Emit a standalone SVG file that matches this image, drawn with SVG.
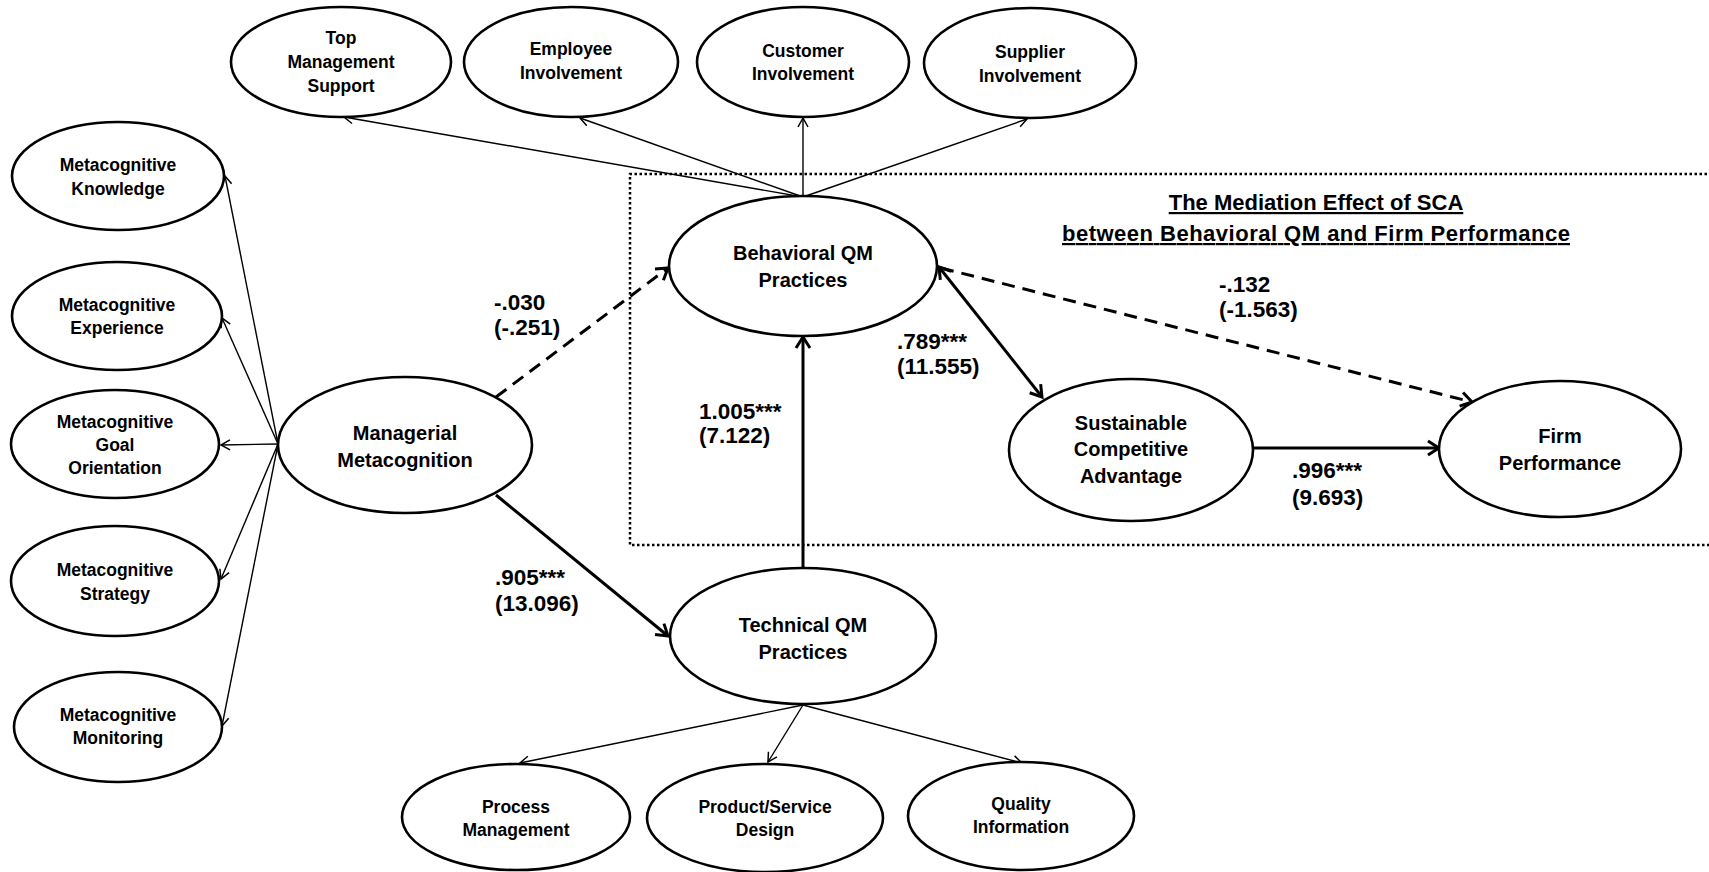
<svg xmlns="http://www.w3.org/2000/svg" width="1709" height="872" viewBox="0 0 1709 872">
  <style>
    .node ellipse { fill: #ffffff; stroke: #000000; stroke-width: 2.6; }
    .node text { font-family: "Liberation Sans", Arial, sans-serif; font-weight: bold; fill: #000000; text-anchor: middle; }
    .sm text { font-size: 17.5px; }
    .lg text { font-size: 20px; }
    .thin { stroke: #000000; stroke-width: 1.4; fill: none; marker-end: url(#arrowThin); }
    .thick { stroke: #000000; stroke-width: 3; fill: none; marker-end: url(#arrowThick); }
    .dash { stroke-dasharray: 13 8; }
    .lbl { font-family: "Liberation Sans", Arial, sans-serif; font-weight: bold; font-size: 22.5px; fill: #000000; }
    .title { font-family: "Liberation Sans", Arial, sans-serif; font-weight: bold; font-size: 22px; fill: #000000; text-anchor: middle; text-decoration: underline; }
    .box { fill: none; stroke: #000000; stroke-width: 2.5; stroke-dasharray: 2.5 2.5; }
  </style>
  <defs>
    <marker id="arrowThin" viewBox="-12 -8 14 16" markerWidth="14" markerHeight="16" refX="0" refY="0" orient="auto" markerUnits="userSpaceOnUse" overflow="visible">
      <path d="M-9,-5 L0,0 L-9,5" fill="none" stroke="#000000" stroke-width="1.5"/>
    </marker>
    <marker id="arrowThick" viewBox="-14 -9 16 18" markerWidth="16" markerHeight="18" refX="0" refY="0" orient="auto-start-reverse" markerUnits="userSpaceOnUse" overflow="visible">
      <path d="M-11,-7 L0,0 L-11,7" fill="none" stroke="#000000" stroke-width="3"/>
    </marker>
  </defs>
  <rect width="1709" height="872" fill="#ffffff"/>

  <!-- dotted frame around the mediation part -->
  <path class="box" d="M1712,174 H630 V545 H1712"/>

  <!-- connectors -->
  <g id="connectors">
    <!-- Behavioral QM indicators -->
    <line class="thin" x1="803" y1="197" x2="344" y2="117"/>
    <line class="thin" x1="803" y1="197" x2="580" y2="118"/>
    <line class="thin" x1="803" y1="197" x2="803" y2="118"/>
    <line class="thin" x1="803" y1="197" x2="1027" y2="119"/>
    <!-- Managerial Metacognition indicators -->
    <line class="thin" x1="278" y1="444" x2="225" y2="176"/>
    <line class="thin" x1="278" y1="444" x2="222" y2="318"/>
    <line class="thin" x1="278" y1="444" x2="221" y2="445"/>
    <line class="thin" x1="278" y1="444" x2="221" y2="579"/>
    <line class="thin" x1="278" y1="444" x2="222" y2="726"/>
    <!-- Technical QM indicators -->
    <line class="thin" x1="803" y1="705" x2="520" y2="763"/>
    <line class="thin" x1="803" y1="705" x2="768" y2="762"/>
    <line class="thin" x1="803" y1="705" x2="1022" y2="763"/>
    <!-- structural paths -->
    <line class="thick dash" x1="496" y1="397" x2="668" y2="268"/>
    <line class="thick" x1="496" y1="495" x2="668" y2="636"/>
    <line class="thick" x1="803" y1="568" x2="803" y2="337"/>
    <line class="thick" x1="1042" y1="397" x2="939" y2="267" marker-start="url(#arrowThick)"/>
    <line class="thick dash" x1="941" y1="268" x2="1472" y2="402"/>
    <line class="thick" x1="1253" y1="448" x2="1439" y2="448"/>
  </g>

  <!-- top indicators -->
  <g id="top-management-support" class="node sm">
    <ellipse cx="341" cy="62" rx="110" ry="55"/>
    <text x="341" y="44">Top</text>
    <text x="341" y="68">Management</text>
    <text x="341" y="92">Support</text>
  </g>
  <g id="employee-involvement" class="node sm">
    <ellipse cx="571" cy="62" rx="107" ry="55"/>
    <text x="571" y="55">Employee</text>
    <text x="571" y="79">Involvement</text>
  </g>
  <g id="customer-involvement" class="node sm">
    <ellipse cx="803" cy="62" rx="106" ry="55"/>
    <text x="803" y="57">Customer</text>
    <text x="803" y="80">Involvement</text>
  </g>
  <g id="supplier-involvement" class="node sm">
    <ellipse cx="1030" cy="63" rx="106" ry="55"/>
    <text x="1030" y="58">Supplier</text>
    <text x="1030" y="82">Involvement</text>
  </g>

  <!-- left indicators -->
  <g id="metacognitive-knowledge" class="node sm">
    <ellipse cx="118" cy="176" rx="106" ry="54"/>
    <text x="118" y="171">Metacognitive</text>
    <text x="118" y="195">Knowledge</text>
  </g>
  <g id="metacognitive-experience" class="node sm">
    <ellipse cx="117" cy="316" rx="105" ry="54"/>
    <text x="117" y="311">Metacognitive</text>
    <text x="117" y="334">Experience</text>
  </g>
  <g id="metacognitive-goal-orientation" class="node sm">
    <ellipse cx="115" cy="444" rx="104" ry="54"/>
    <text x="115" y="428">Metacognitive</text>
    <text x="115" y="451">Goal</text>
    <text x="115" y="474">Orientation</text>
  </g>
  <g id="metacognitive-strategy" class="node sm">
    <ellipse cx="115" cy="581" rx="104" ry="55"/>
    <text x="115" y="576">Metacognitive</text>
    <text x="115" y="600">Strategy</text>
  </g>
  <g id="metacognitive-monitoring" class="node sm">
    <ellipse cx="118" cy="727" rx="104" ry="55"/>
    <text x="118" y="721">Metacognitive</text>
    <text x="118" y="744">Monitoring</text>
  </g>

  <!-- constructs -->
  <g id="managerial-metacognition" class="node lg">
    <ellipse cx="405" cy="445" rx="127" ry="68"/>
    <text x="405" y="440">Managerial</text>
    <text x="405" y="467">Metacognition</text>
  </g>
  <g id="behavioral-qm" class="node lg">
    <ellipse cx="803" cy="266" rx="134" ry="70"/>
    <text x="803" y="260">Behavioral QM</text>
    <text x="803" y="287">Practices</text>
  </g>
  <g id="technical-qm" class="node lg">
    <ellipse cx="803" cy="636" rx="133" ry="68"/>
    <text x="803" y="632">Technical QM</text>
    <text x="803" y="659">Practices</text>
  </g>
  <g id="sca" class="node lg">
    <ellipse cx="1131" cy="450" rx="122" ry="71"/>
    <text x="1131" y="430">Sustainable</text>
    <text x="1131" y="456">Competitive</text>
    <text x="1131" y="483">Advantage</text>
  </g>
  <g id="firm-performance" class="node lg">
    <ellipse cx="1560" cy="449" rx="121" ry="68"/>
    <text x="1560" y="443">Firm</text>
    <text x="1560" y="470">Performance</text>
  </g>

  <!-- bottom indicators -->
  <g id="process-management" class="node sm">
    <ellipse cx="516" cy="817" rx="114" ry="53"/>
    <text x="516" y="813">Process</text>
    <text x="516" y="836">Management</text>
  </g>
  <g id="product-service-design" class="node sm">
    <ellipse cx="765" cy="818" rx="118" ry="54"/>
    <text x="765" y="813">Product/Service</text>
    <text x="765" y="836">Design</text>
  </g>
  <g id="quality-information" class="node sm">
    <ellipse cx="1021" cy="816" rx="113" ry="54"/>
    <text x="1021" y="810">Quality</text>
    <text x="1021" y="833">Information</text>
  </g>

  <!-- path coefficients (t-values) -->
  <g id="labels">
    <text class="lbl" x="494" y="310">-.030</text>
    <text class="lbl" x="494" y="335">(-.251)</text>
    <text class="lbl" x="897" y="349">.789***</text>
    <text class="lbl" x="897" y="374">(11.555)</text>
    <text class="lbl" x="699" y="419">1.005***</text>
    <text class="lbl" x="699" y="443">(7.122)</text>
    <text class="lbl" x="495" y="585">.905***</text>
    <text class="lbl" x="495" y="611">(13.096)</text>
    <text class="lbl" x="1219" y="292">-.132</text>
    <text class="lbl" x="1219" y="317">(-1.563)</text>
    <text class="lbl" x="1292" y="478">.996***</text>
    <text class="lbl" x="1292" y="505">(9.693)</text>
  </g>

  <g id="title">
    <text class="title" x="1316" y="210">The Mediation Effect of SCA</text>
    <text class="title" x="1316" y="241" textLength="508" lengthAdjust="spacing">between Behavioral QM and Firm Performance</text>
  </g>
</svg>
